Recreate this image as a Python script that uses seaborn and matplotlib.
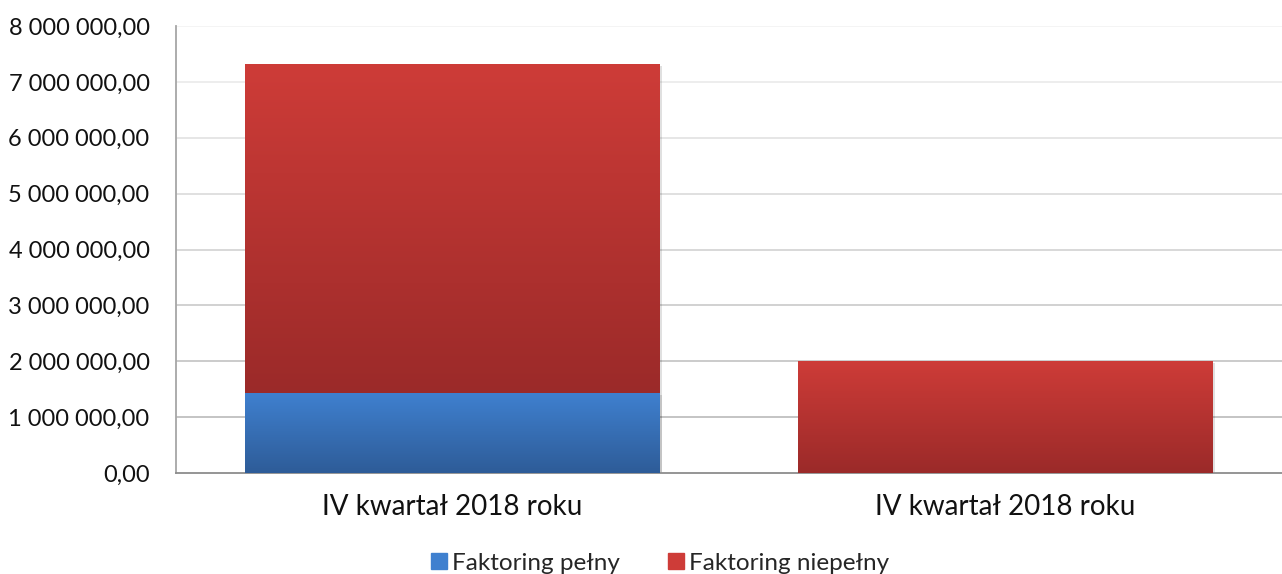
import numpy as np
import pandas as pd
import matplotlib
matplotlib.use("Agg")
import matplotlib.pyplot as plt
import matplotlib.patheffects as pe
from matplotlib.colors import LinearSegmentedColormap
import seaborn as sns

sns.set_theme(style="white")
plt.rcParams["font.family"] = ["Lato", "DejaVu Sans"]

categories = ["IV kwartał 2018 roku", "IV kwartał 2018 roku "]
pelny = [1430000, 0]
niepelny = [5890000, 2005000]
series_names = ["Faktoring pełny", "Faktoring niepełny"]
y_ticks = [0, 1000000, 2000000, 3000000, 4000000, 5000000, 6000000, 7000000, 8000000]

GRAD = {
    "Faktoring pełny": ("#3f80cf", "#2e5c98"),
    "Faktoring niepełny": ("#ce3c38", "#9b2a29"),
}

df = pd.DataFrame({"cat": categories, "pelny": pelny, "niepelny": niepelny})
df["total"] = df["pelny"] + df["niepelny"]


def fmt(v):
    s = f"{v:,.2f}"
    return s.replace(",", " ").replace(".", ",")


fig = plt.figure(figsize=(12.82, 5.74), dpi=100)
ax = fig.add_axes([176 / 1282, 1 - 473 / 574, (1282 - 176) / 1282, (473 - 26) / 574])

sns.barplot(data=df, x="cat", y="total", color=GRAD["Faktoring niepełny"][0],
            width=0.75, ax=ax, saturation=1, label=series_names[1])
n_red = len(ax.patches)
sns.barplot(data=df, x="cat", y="pelny", color=GRAD["Faktoring pełny"][0],
            width=0.75, ax=ax, saturation=1, label=series_names[0])

ax.set_xlim(-0.5, 1.5)
ax.set_ylim(0, 8000000)

# gradient fill for each segment
grad = np.linspace(1, 0, 256).reshape(-1, 1)
for i, p in enumerate(ax.patches):
    name = series_names[1] if i < n_red else series_names[0]
    x0, w = p.get_x(), p.get_width()
    bottom = 0
    top = p.get_height()
    if i < n_red:
        bottom = df["pelny"].iloc[i]
    if top - bottom <= 0:
        p.set_visible(False)
        continue
    cmap = LinearSegmentedColormap.from_list(name, [GRAD[name][1], GRAD[name][0]])
    p.set_path_effects([pe.SimplePatchShadow(offset=(1.2, -1.5), alpha=0.12, shadow_rgbFace="#000000")])
    p.set_zorder(2)
    im = ax.imshow(grad, extent=[x0, x0 + w, bottom, top], aspect="auto",
                   cmap=cmap, zorder=3, interpolation="bicubic")
    clip = plt.Rectangle((x0, bottom), w, top - bottom, transform=ax.transData)
    im.set_clip_path(clip)

# gridlines, lighter near the top
for t in y_ticks[1:]:
    frac = t / 8000000
    g = 0.70 + 0.25 * frac
    ax.axhline(t, color=(g, g, g), lw=1.2, zorder=1)

ax.set_yticks(y_ticks)
ax.set_yticklabels([fmt(v) for v in y_ticks], fontsize=17, color="#111111")
ax.set_xticks([0, 1])
ax.set_xticklabels([c.strip() for c in categories], fontsize=20, color="#111111")
ax.tick_params(axis="both", length=0)
ax.tick_params(axis="y", pad=19)
ax.tick_params(axis="x", pad=15)
ax.set_xlabel("")
ax.set_ylabel("")
for s in ["top", "right"]:
    ax.spines[s].set_visible(False)
ax.spines["left"].set_color("#a6a6a6")
ax.spines["left"].set_linewidth(1.3)
ax.spines["bottom"].set_color("#8c8c8c")
ax.spines["bottom"].set_linewidth(1.3)

handles = [plt.Rectangle((0, 0), 1, 1, color=GRAD[n][0]) for n in series_names]
leg = fig.legend(handles, series_names, loc="center", bbox_to_anchor=(660 / 1282, 1 - 563 / 574),
                 ncol=2, frameon=False, fontsize=17.5, handlelength=0.65, handleheight=0.65,
                 handletextpad=0.2, columnspacing=2.0)
if ax.get_legend():
    ax.get_legend().remove()

fig.savefig("out.png", dpi=100)
